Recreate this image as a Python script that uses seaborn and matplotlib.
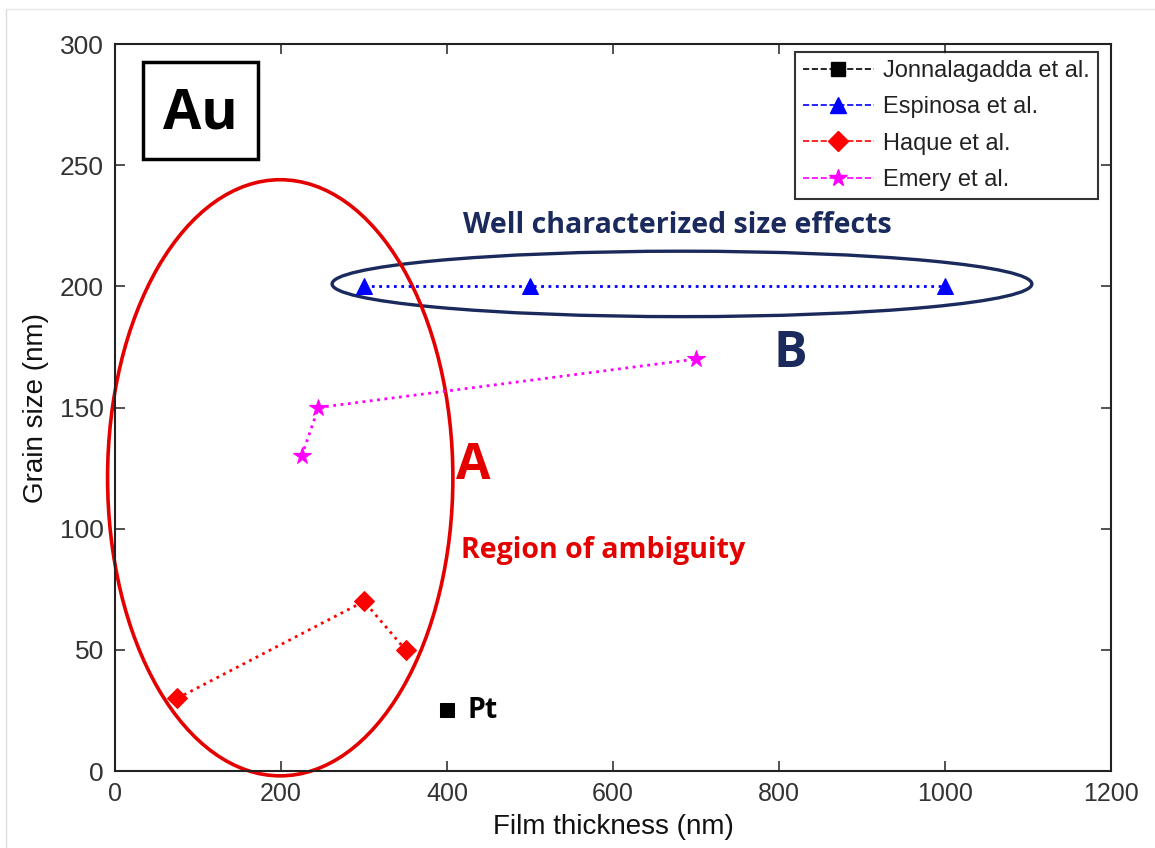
import matplotlib
matplotlib.use("Agg")
import matplotlib.pyplot as plt
import seaborn as sns
import pandas as pd
from matplotlib.patches import Ellipse, Rectangle
from matplotlib.lines import Line2D

# ---- data ----
series_names = ["Jonnalagadda et al.", "Espinosa et al.", "Haque et al.", "Emery et al."]
jon_x = [400]
jon_y = [25]
esp_x = [300, 500, 1000]
esp_y = [200, 200, 200]
haq_x = [75, 300, 350]
haq_y = [30, 70, 50]
eme_x = [225, 245, 700]
eme_y = [130, 150, 170]
x_ticks = [0, 200, 400, 600, 800, 1000, 1200]
y_ticks = [0, 50, 100, 150, 200, 250, 300]

colors = ["black", "#0000FF", "#FF0000", "#FF00FF"]
markers = ["s", "^", "D", "*"]
msizes = [10.5, 12, 10, 13]

sns.set_theme(style="white")
plt.rcParams["font.family"] = ["Liberation Sans", "DejaVu Sans"]

fig = plt.figure(figsize=(11.55, 8.48), dpi=100)
ax = fig.add_axes([0.0996, 0.0908, 0.8624, 0.8573])

# faint outer frame (left and top edges)
fig.add_artist(Line2D([6 / 1155, 6 / 1155], [0, 1 - 9 / 848], color="#DDDDDD", linewidth=1))
fig.add_artist(Line2D([6 / 1155, 1], [1 - 9 / 848, 1 - 9 / 848], color="#E6E6E6", linewidth=1))

xs = [jon_x, esp_x, haq_x, eme_x]
ys = [jon_y, esp_y, haq_y, eme_y]
handles = []
for name, x, y, c, m, ms in zip(series_names, xs, ys, colors, markers, msizes):
    df = pd.DataFrame({"x": x, "y": y})
    sns.lineplot(data=df, x="x", y="y", ax=ax, color=c, linestyle=":", linewidth=2,
                 marker=m, markersize=ms, markeredgecolor=c, markerfacecolor=c,
                 sort=False, estimator=None, legend=False)
    handles.append(Line2D([0], [0], color=c, linestyle="--", linewidth=1.2,
                          marker=m, markersize=ms, markerfacecolor=c, markeredgecolor=c))

ax.set_xlim(0, 1200)
ax.set_ylim(0, 300)
ax.set_xticks(x_ticks)
ax.set_yticks(y_ticks)
ax.set_xticklabels([str(t) for t in x_ticks], fontsize=18, color="#333333")
ax.set_yticklabels([str(t) for t in y_ticks], fontsize=19, color="#333333")
ax.set_xlabel("Film thickness (nm)", fontsize=20, color="#111111", labelpad=6)
ax.set_ylabel("Grain size (nm)", fontsize=20, color="#111111", labelpad=8)
ax.tick_params(direction="in", length=7, width=1.2, top=True, right=True,
               bottom=True, left=True, colors="#333333", labelcolor="#333333", pad=8)
for s in ax.spines.values():
    s.set_color("#222222")
    s.set_linewidth(1.5)

leg = ax.legend(handles, series_names, loc="upper right", fontsize=17,
                frameon=True, fancybox=False, edgecolor="black", handlelength=3,
                borderpad=0.35, labelspacing=0.6, handletextpad=0.4,
                borderaxespad=0, bbox_to_anchor=(0.987, 0.989))
leg.get_frame().set_linewidth(1.5)
for t in leg.get_texts():
    t.set_color("#222222")

ann_font = ["Open Sans", "DejaVu Sans"]
navy = "#1B2A5C"

# ellipses
ax.add_patch(Ellipse((683, 201), 843, 27, fill=False, edgecolor=navy, linewidth=2.4, clip_on=False))
ax.add_patch(Ellipse((199, 121), 416, 246, fill=False, edgecolor="#E50000", linewidth=2.6, clip_on=False))

ax.text(677, 225, "Well characterized size effects", ha="center", va="center",
        fontsize=20.5, fontweight="bold", color=navy, family=ann_font)
ax.text(814, 172, "B", ha="center", va="center", fontsize=36, fontweight="bold",
        color=navy, family=ann_font)
ax.text(431, 126, "A", ha="center", va="center", fontsize=36, fontweight="bold",
        color="#E50000", family=ann_font)
ax.text(588, 91, "Region of ambiguity", ha="center", va="center", fontsize=20.5,
        fontweight="bold", color="#E50000", family=ann_font)
ax.text(425, 25, "Pt", ha="left", va="center", fontsize=20.5, fontweight="bold",
        color="black", family=ann_font)
ax.add_patch(Rectangle((34, 252.5), 138, 40, fill=True, facecolor="white",
                       edgecolor="black", linewidth=2.5, zorder=5))
ax.text(103, 271, "Au", ha="center", va="center", fontsize=40, fontweight="bold",
        color="black", family=ann_font, zorder=6)

fig.savefig("out.png", dpi=100)
